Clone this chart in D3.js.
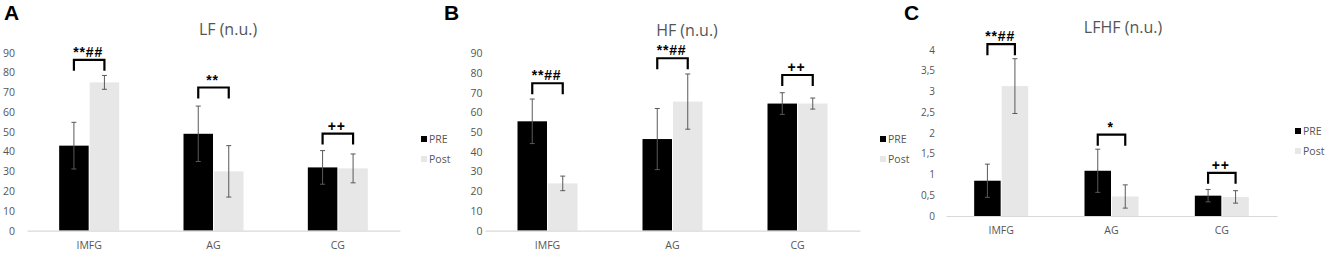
<!DOCTYPE html>
<html>
<head>
<meta charset="utf-8">
<script src="https://cdn.jsdelivr.net/npm/d3@7"></script>
<style>
  body { margin: 0; background: #fff; }
  svg { display: block; font-family: "Open Sans", sans-serif; }
</style>
</head>
<body>
<svg id="chart" width="1325" height="253"></svg>
<script>
// data (mean, sd)
const groups = ["IMFG", "AG", "CG"];
const seriesNames = ["PRE", "Post"];

const lfPre = [43, 49, 32];
const lfPreErr = [11.8, 14, 8.5];
const lfPost = [75, 30, 31.5];
const lfPostErr = [3.5, 13, 7.3];
const lfSig = ["**##", "**", "++"];
const lfBracket = [86.4, 72.4, 49.1];
const lfTicks = [0, 10, 20, 30, 40, 50, 60, 70, 80, 90];

const hfPre = [55.5, 46.5, 64.5];
const hfPreErr = [11.3, 15.5, 5.5];
const hfPost = [24, 65.5, 64.5];
const hfPostErr = [3.7, 14, 2.8];
const hfSig = ["**##", "**##", "++"];
const hfBracket = [74.8, 87.5, 79];
const hfTicks = [0, 10, 20, 30, 40, 50, 60, 70, 80, 90];

const lfhfPre = [0.85, 1.09, 0.49];
const lfhfPreErr = [0.4, 0.52, 0.15];
const lfhfPost = [3.13, 0.47, 0.46];
const lfhfPostErr = [0.66, 0.28, 0.15];
const lfhfSig = ["**##", "*", "++"];
const lfhfBracket = [4.14, 1.96, 1.04];
const lfhfTicks = [0, 0.5, 1, 1.5, 2, 2.5, 3, 3.5, 4];

const colors = {PRE: "#000000", Post: "#e7e7e7"};
const textGray = "#555555";

const comma = d3.formatLocale({decimal: ",", thousands: ".", grouping: [3], currency: ["", ""]});

const svg = d3.select("#chart");

function drawPanel(p) {
  const g = svg.append("g");

  const x = d3.scaleBand().domain(groups).range([p.x0, p.x1]);
  const y = d3.scaleLinear().domain([0, p.ticks[p.ticks.length - 1]]).range([p.yBase, p.yTop]);
  const bw = p.barW;

  // panel letter + title
  g.append("text")
    .attr("x", p.letterX).attr("y", p.letterY)
    .style("font-family", "Liberation Sans, Arial, sans-serif")
    .style("font-weight", "bold").style("font-size", "21px")
    .text(p.letter);
  g.append("text")
    .attr("x", p.titleX).attr("y", p.titleY)
    .attr("text-anchor", "middle")
    .style("font-size", "16px").style("fill", textGray)
    .text(p.title);

  // y axis (labels only)
  const ya = g.append("g")
    .attr("transform", `translate(${p.x0},0)`)
    .call(d3.axisLeft(y).tickValues(p.ticks).tickSize(0).tickPadding(p.yPad)
      .tickFormat(p.fmt));
  ya.select(".domain").remove();
  ya.selectAll("text").style("font-size", p.tickFont).style("fill", textGray)
    .style("font-family", "Open Sans, sans-serif");

  // bars
  const rows = [];
  groups.forEach((grp, i) => {
    rows.push({grp: grp, s: "PRE", v: p.pre[i], e: p.preErr[i], dx: -bw - 0.5});
    rows.push({grp: grp, s: "Post", v: p.post[i], e: p.postErr[i], dx: 0.5});
  });
  const cx = d => x(d.grp) + x.bandwidth() / 2;

  g.selectAll("rect.bar").data(rows).join("rect")
    .attr("class", "bar")
    .attr("x", d => cx(d) + d.dx)
    .attr("width", bw)
    .attr("y", d => y(d.v))
    .attr("height", d => y(0) - y(d.v))
    .attr("fill", d => colors[d.s]);

  // x axis
  const xa = g.append("g")
    .attr("transform", `translate(0,${p.yBase})`)
    .call(d3.axisBottom(x).tickSize(0).tickSizeOuter(0).tickPadding(11));
  xa.select(".domain").attr("stroke", "#d9d9d9").attr("stroke-width", 1.2);
  xa.selectAll("text").style("font-size", "10.5px").style("fill", textGray)
    .style("font-family", "Open Sans, sans-serif");

  // error bars
  const eb = g.selectAll("g.err").data(rows).join("g").attr("class", "err")
    .attr("stroke", "#595959").attr("stroke-width", 1);
  const mid = d => cx(d) + d.dx + bw / 2;
  eb.append("line")
    .attr("x1", mid).attr("x2", mid)
    .attr("y1", d => y(d.v + d.e)).attr("y2", d => y(d.v - d.e));
  eb.append("line")
    .attr("x1", d => mid(d) - 2.5).attr("x2", d => mid(d) + 2.5)
    .attr("y1", d => y(d.v + d.e)).attr("y2", d => y(d.v + d.e));
  eb.append("line")
    .attr("x1", d => mid(d) - 2.5).attr("x2", d => mid(d) + 2.5)
    .attr("y1", d => y(d.v - d.e)).attr("y2", d => y(d.v - d.e));

  // significance brackets
  groups.forEach((grp, i) => {
    const c = x(grp) + x.bandwidth() / 2;
    const l = c - 0.5 - bw / 2, r = c + 0.5 + bw / 2;
    const top = y(p.bracket[i]);
    g.append("path")
      .attr("d", `M${l},${top + 11}V${top}H${r}V${top + 11}`)
      .attr("fill", "none").attr("stroke", "#000").attr("stroke-width", 2.2);
    g.append("text")
      .attr("x", c - 1).attr("y", top - 3)
      .attr("text-anchor", "middle")
      .style("font-family", "Liberation Sans, Arial, sans-serif")
      .style("font-weight", "bold").style("font-size", "14px")
      .style("letter-spacing", "0.8px")
      .text(p.sig[i]);
  });

  // legend
  seriesNames.forEach((s, i) => {
    const ly = p.legY + i * 20;
    g.append("rect")
      .attr("x", p.legX).attr("y", ly - 3).attr("width", 6).attr("height", 6)
      .attr("fill", colors[s]);
    g.append("text")
      .attr("x", p.legX + 8).attr("y", ly).attr("dy", "0.35em")
      .style("font-size", "10.5px").style("fill", textGray)
      .text(s);
  });
}

const intFmt = d3.format("d");

drawPanel({
  letter: "A", letterX: 4, letterY: 20, title: "LF (n.u.)", titleX: 228, titleY: 35,
  x0: 27, x1: 400, yBase: 230.7, yTop: 52.7, ticks: lfTicks, fmt: intFmt, yPad: 12,
  tickFont: "10.5px", barW: 29.5,
  pre: lfPre, preErr: lfPreErr, post: lfPost, postErr: lfPostErr, sig: lfSig, bracket: lfBracket,
  legX: 421, legY: 139
});

drawPanel({
  letter: "B", letterX: 444, letterY: 20, title: "HF (n.u.)", titleX: 687, titleY: 36,
  x0: 485, x1: 860, yBase: 230.7, yTop: 53.3, ticks: hfTicks, fmt: intFmt, yPad: 2.5,
  tickFont: "10.5px", barW: 29.5,
  pre: hfPre, preErr: hfPreErr, post: hfPost, postErr: hfPostErr, sig: hfSig, bracket: hfBracket,
  legX: 880, legY: 139
});

drawPanel({
  letter: "C", letterX: 904, letterY: 20, title: "LFHF (n.u.)", titleX: 1123, titleY: 33,
  x0: 946, x1: 1277, yBase: 216, yTop: 50, ticks: lfhfTicks, fmt: comma.format("~"), yPad: 11,
  tickFont: "10px", barW: 26.5,
  pre: lfhfPre, preErr: lfhfPreErr, post: lfhfPost, postErr: lfhfPostErr, sig: lfhfSig, bracket: lfhfBracket,
  legX: 1295, legY: 131
});
</script>
</body>
</html>
